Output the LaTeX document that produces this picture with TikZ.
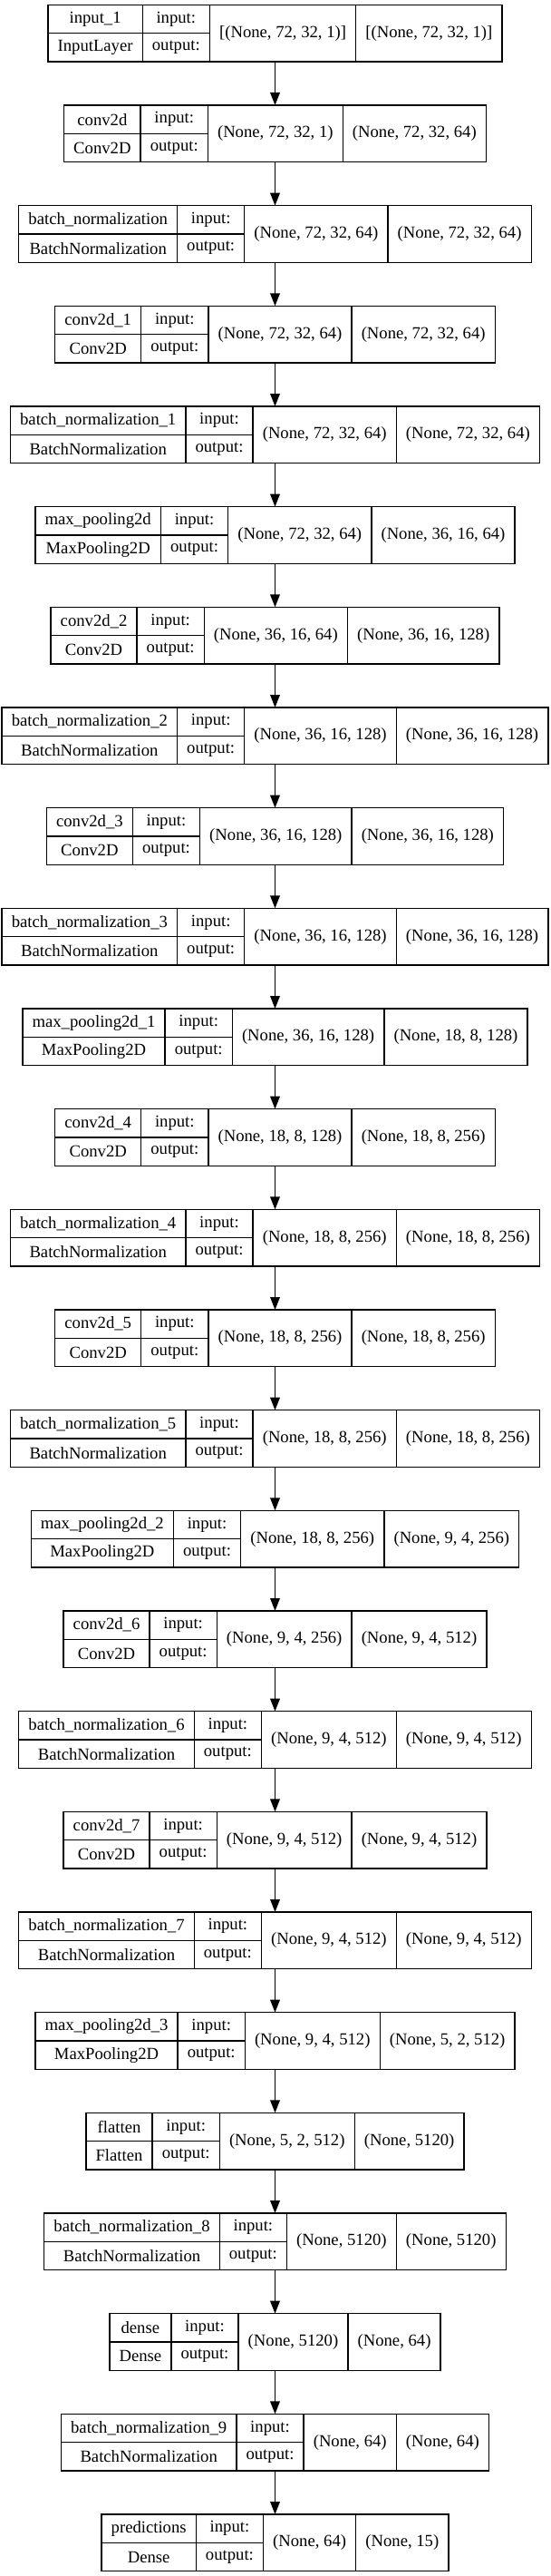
\documentclass[tikz,border=0pt]{standalone}
\usepackage{fontspec}
\setmainfont{Liberation Serif}
\usetikzlibrary{arrows.meta}
\newlength\lwa \newlength\lwb \newlength\lwc \newlength\lwdd \newlength\lwt
\newcommand\lf{\fontsize{14pt}{16pt}\selectfont}
\tikzset{
  boxnode/.style={draw=black, line width=1pt, inner sep=0pt, outer sep=0pt},
  cellnode/.style={draw=black, line width=1pt, inner sep=0pt, outer sep=0pt, font=\lf, anchor=north west},
  arr/.style={draw=black, line width=1pt, -{Triangle[length=10.5pt,width=8pt]}}
}
% measure outside the picture, store globally
\newcommand\defl[5]{%
  \settowidth\lwa{\lf #2}\settowidth\lwt{\lf #3}\ifdim\lwt>\lwa\lwa=\lwt\fi\addtolength\lwa{16pt}%
  \settowidth\lwc{\lf #4}\addtolength\lwc{16pt}%
  \settowidth\lwdd{\lf #5}\addtolength\lwdd{16pt}%
  \expandafter\xdef\csname LA#1\endcsname{\the\lwa}%
  \expandafter\xdef\csname LC#1\endcsname{\the\lwc}%
  \expandafter\xdef\csname LD#1\endcsname{\the\lwdd}%
  \expandafter\gdef\csname LN#1\endcsname{#2}%
  \expandafter\gdef\csname LK#1\endcsname{#3}%
  \expandafter\gdef\csname LI#1\endcsname{#4}%
  \expandafter\gdef\csname LO#1\endcsname{#5}%
}
\newcommand\drawlayer[1]{%
  \edef\la{\csname LA#1\endcsname}\edef\lc{\csname LC#1\endcsname}\edef\ld{\csname LD#1\endcsname}%
  \pgfmathsetlengthmacro\lW{\la+\LB+\lc+\ld}%
  \pgfmathsetlengthmacro\lX{227.625pt-\lW/2}%
  \pgfmathsetlengthmacro\lY{-4pt-#1*83pt}%
  \node[boxnode, minimum width=\lW, minimum height=47pt, anchor=north west] (L#1) at (\lX,\lY) {};
  \node[cellnode, minimum width=\la, minimum height=23.5pt] (L#1n) at (L#1.north west) {\csname LN#1\endcsname};
  \node[cellnode, minimum width=\la, minimum height=23.5pt] (L#1c) at (L#1n.south west) {\csname LK#1\endcsname};
  \node[cellnode, minimum width=\LB, minimum height=23.5pt] (L#1i) at (L#1n.north east) {input:};
  \node[cellnode, minimum width=\LB, minimum height=23.5pt] (L#1o) at (L#1i.south west) {output:};
  \node[cellnode, minimum width=\lc, minimum height=47pt] (L#1s) at (L#1i.north east) {\csname LI#1\endcsname};
  \node[cellnode, minimum width=\ld, minimum height=47pt] (L#1t) at (L#1s.north east) {\csname LO#1\endcsname};
}
\begin{document}
\settowidth\lwb{\lf output:}\addtolength\lwb{16pt}\xdef\LB{\the\lwb}%
\defl{0}{input\_1}{InputLayer}{[(None, 72, 32, 1)]}{[(None, 72, 32, 1)]}%
\defl{1}{conv2d}{Conv2D}{(None, 72, 32, 1)}{(None, 72, 32, 64)}%
\defl{2}{batch\_normalization}{BatchNormalization}{(None, 72, 32, 64)}{(None, 72, 32, 64)}%
\defl{3}{conv2d\_1}{Conv2D}{(None, 72, 32, 64)}{(None, 72, 32, 64)}%
\defl{4}{batch\_normalization\_1}{BatchNormalization}{(None, 72, 32, 64)}{(None, 72, 32, 64)}%
\defl{5}{max\_pooling2d}{MaxPooling2D}{(None, 72, 32, 64)}{(None, 36, 16, 64)}%
\defl{6}{conv2d\_2}{Conv2D}{(None, 36, 16, 64)}{(None, 36, 16, 128)}%
\defl{7}{batch\_normalization\_2}{BatchNormalization}{(None, 36, 16, 128)}{(None, 36, 16, 128)}%
\defl{8}{conv2d\_3}{Conv2D}{(None, 36, 16, 128)}{(None, 36, 16, 128)}%
\defl{9}{batch\_normalization\_3}{BatchNormalization}{(None, 36, 16, 128)}{(None, 36, 16, 128)}%
\defl{10}{max\_pooling2d\_1}{MaxPooling2D}{(None, 36, 16, 128)}{(None, 18, 8, 128)}%
\defl{11}{conv2d\_4}{Conv2D}{(None, 18, 8, 128)}{(None, 18, 8, 256)}%
\defl{12}{batch\_normalization\_4}{BatchNormalization}{(None, 18, 8, 256)}{(None, 18, 8, 256)}%
\defl{13}{conv2d\_5}{Conv2D}{(None, 18, 8, 256)}{(None, 18, 8, 256)}%
\defl{14}{batch\_normalization\_5}{BatchNormalization}{(None, 18, 8, 256)}{(None, 18, 8, 256)}%
\defl{15}{max\_pooling2d\_2}{MaxPooling2D}{(None, 18, 8, 256)}{(None, 9, 4, 256)}%
\defl{16}{conv2d\_6}{Conv2D}{(None, 9, 4, 256)}{(None, 9, 4, 512)}%
\defl{17}{batch\_normalization\_6}{BatchNormalization}{(None, 9, 4, 512)}{(None, 9, 4, 512)}%
\defl{18}{conv2d\_7}{Conv2D}{(None, 9, 4, 512)}{(None, 9, 4, 512)}%
\defl{19}{batch\_normalization\_7}{BatchNormalization}{(None, 9, 4, 512)}{(None, 9, 4, 512)}%
\defl{20}{max\_pooling2d\_3}{MaxPooling2D}{(None, 9, 4, 512)}{(None, 5, 2, 512)}%
\defl{21}{flatten}{Flatten}{(None, 5, 2, 512)}{(None, 5120)}%
\defl{22}{batch\_normalization\_8}{BatchNormalization}{(None, 5120)}{(None, 5120)}%
\defl{23}{dense}{Dense}{(None, 5120)}{(None, 64)}%
\defl{24}{batch\_normalization\_9}{BatchNormalization}{(None, 64)}{(None, 64)}%
\defl{25}{predictions}{Dense}{(None, 64)}{(None, 15)}%
\begin{tikzpicture}
\useasboundingbox (0,0) rectangle (455.25pt,-2130pt);
\foreach \i in {0,...,25} {\drawlayer{\i}}
\foreach \i [evaluate=\i as \j using int(\i+1)] in {0,...,24} {
  \draw[arr] (L\i.south) -- (L\j.north);
}
\end{tikzpicture}
\end{document}
